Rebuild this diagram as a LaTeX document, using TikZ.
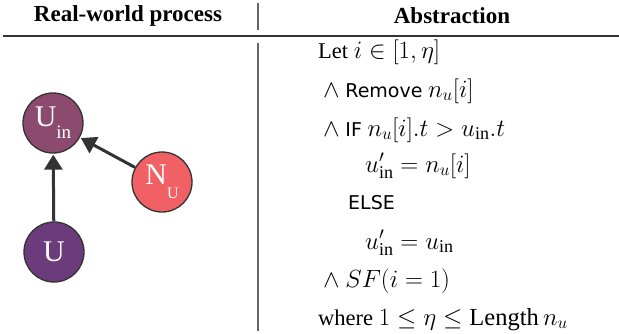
\documentclass[tikz,border=0pt]{standalone}
\usepackage{fontspec}
\setmainfont{Liberation Serif}
\setsansfont{DejaVu Sans}
\usetikzlibrary{arrows.meta}
\DeclareMathSizes{22.5}{24.5}{18}{14}
\definecolor{uin}{HTML}{8C4A6E}
\definecolor{nu}{HTML}{F06064}
\definecolor{uu}{HTML}{6B3B7B}
\definecolor{edge}{HTML}{333333}
\definecolor{rule}{HTML}{666666}
\tikzset{
  agent/.style={circle, draw=edge, line width=1.3pt, minimum size=60pt, inner sep=0pt, text=white, font=\fontsize{30}{32}\selectfont},
  link/.style={draw=edge, line width=3pt, -{Triangle[length=15pt,width=18pt]}, shorten >=1pt},
  hdr/.style={font=\fontsize{23}{25}\selectfont\bfseries},
  line/.style={anchor=base west, inner sep=0pt, font=\fontsize{22.5}{24}\selectfont},
  sepline/.style={draw=rule, line width=1.1pt}
}
\newcommand{\kw}[1]{\textsf{\fontsize{19}{21}\selectfont #1}}
\begin{document}
\begin{tikzpicture}[x=1pt,y=-1pt]
\useasboundingbox (0,0) rectangle (619,333);
\node[hdr] (h1) at (128,16) {Real-world process};
\node[hdr] (h2) at (452,16) {Abstraction};
\draw[sepline] (258,3) -- (258,30);
\draw[sepline] (258,43) -- (258,331);
\draw[draw=black!80, line width=1.4pt] (3,36) -- (619,36);
\node[agent, fill=uin] (uin) at (53,123) {U\raisebox{-0.4em}{\fontsize{19}{19}\selectfont in}};
\node[agent, fill=nu] (nu) at (162,182) {N\raisebox{-0.45em}{\fontsize{16}{16}\selectfont U}};
\node[agent, fill=uu] (u) at (54,252) {U};
\draw[link] (u) -- (uin);
\draw[link] (nu) -- (uin);
\node[line] (l1) at (318,58) {Let $i \in [1,\eta]$};
\node[line] (l2) at (323,97) {$\wedge$ \kw{Remove} $n_u[i]$};
\node[line] (l3) at (323,136) {$\wedge$ \kw{IF} $n_u[i].t > u_{\mathrm{in}}.t$};
\node[line] (l4) at (365,172) {$u'_{\mathrm{in}} = n_u[i]$};
\node[line] (l5) at (348,209) {\kw{ELSE}};
\node[line] (l6) at (365,249) {$u'_{\mathrm{in}} = u_{\mathrm{in}}$};
\node[line] (l7) at (323,287) {$\wedge$ $SF(i = 1)$};
\node[line] (l8) at (318,325) {where $1 \le \eta \le \mathrm{Length}\, n_u$};
\end{tikzpicture}
\end{document}
